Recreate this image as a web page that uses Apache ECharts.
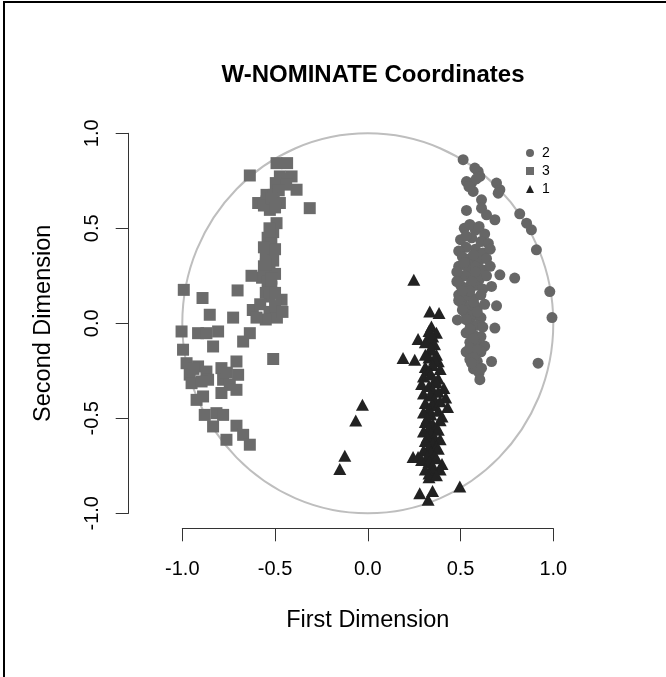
<!DOCTYPE html>
<html>
<head>
<meta charset="utf-8">
<script src="https://cdn.jsdelivr.net/npm/echarts@6/dist/echarts.min.js"></script>
<style>
  html, body { margin: 0; padding: 0; background: #fff; }
  #main { width: 666px; height: 677px; }
</style>
</head>
<body>
<div id="main"></div>
<script>
// axis ticks
const xTicks = [-1.0, -0.5, 0.0, 0.5, 1.0];
const yTicks = [-1.0, -0.5, 0.0, 0.5, 1.0];
const legendNames = ["2", "3", "1"];
const unitRadius = 1;

// group 2 (circles)
const group2 = [
  [0.514,0.861],[0.595,0.799],[0.577,0.817],[0.604,0.773],[0.532,0.746],[0.559,0.738],[0.568,0.694],
  [0.694,0.738],[0.712,0.703],[0.703,0.685],[0.613,0.65],[0.532,0.594],[0.613,0.606],[0.640,0.571],
  [0.685,0.545],[0.819,0.576],[0.856,0.527],[0.882,0.492],[0.909,0.387],[0.585,0.760],[0.545,0.720],
  [0.52,0.50],[0.58,0.49],[0.63,0.47],[0.55,0.52],[0.60,0.51],
  [0.50,0.44],[0.56,0.45],[0.61,0.43],[0.65,0.42],[0.53,0.46],
  [0.53,0.40],[0.58,0.39],[0.62,0.37],[0.49,0.38],[0.66,0.39],
  [0.51,0.35],[0.55,0.34],[0.60,0.33],[0.64,0.34],[0.57,0.36],
  [0.49,0.30],[0.54,0.29],[0.58,0.30],[0.62,0.28],[0.66,0.30],[0.52,0.32],
  [0.52,0.25],[0.56,0.24],[0.60,0.23],[0.64,0.25],[0.48,0.27],[0.58,0.27],
  [0.50,0.20],[0.54,0.19],[0.58,0.20],[0.62,0.18],[0.56,0.22],[0.48,0.22],
  [0.49,0.15],[0.53,0.14],[0.57,0.13],[0.61,0.15],[0.55,0.17],[0.51,0.17],
  [0.51,0.10],[0.55,0.09],[0.59,0.08],[0.63,0.10],[0.49,0.12],[0.57,0.11],
  [0.53,0.05],[0.57,0.04],[0.61,0.03],[0.51,0.07],[0.59,0.06],
  [0.55,0.00],[0.59,-0.01],[0.62,-0.02],[0.53,0.02],
  [0.53,-0.05],[0.57,-0.06],[0.61,-0.07],[0.55,-0.03],
  [0.55,-0.10],[0.59,-0.11],[0.63,-0.12],[0.57,-0.08],
  [0.53,-0.15],[0.57,-0.16],[0.61,-0.15],[0.55,-0.13],[0.59,-0.14],
  [0.55,-0.19],[0.59,-0.20],[0.57,-0.18],
  [0.57,-0.24],[0.60,-0.26],[0.58,-0.22],
  [0.712,0.255],[0.792,0.238],[0.667,0.194],[0.694,0.092],[0.981,0.167],[0.993,0.03],
  [0.483,0.018],[0.685,-0.025],[0.667,-0.201],[0.613,-0.236],[0.604,-0.297],[0.918,-0.21],[0.559,-0.21]
];

// group 3 (squares)
const group3 = [
  [-0.636,0.778],[-0.492,0.843],[-0.435,0.843],[-0.474,0.773],[-0.411,0.773],[-0.457,0.759],[-0.496,0.738],
  [-0.384,0.703],[-0.440,0.730],[-0.546,0.676],[-0.507,0.676],[-0.591,0.633],[-0.474,0.633],[-0.528,0.597],
  [-0.546,0.641],[-0.560,0.620],[-0.313,0.606],[-0.492,0.527],[-0.48,0.70],[-0.52,0.655],[-0.50,0.61],
  [-0.51,0.48],[-0.54,0.45],[-0.52,0.42],[-0.56,0.40],[-0.53,0.37],[-0.55,0.34],[-0.51,0.33],[-0.56,0.30],
  [-0.53,0.28],[-0.50,0.26],[-0.57,0.24],[-0.54,0.22],[-0.52,0.19],[-0.627,0.25],[-0.55,0.16],[-0.528,0.141],
  [-0.465,0.124],[-0.50,0.16],[-0.53,0.50],[-0.50,0.39],[-0.55,0.31],[-0.52,0.235],
  [-0.992,0.176],[-0.891,0.133],[-0.702,0.173],[-0.852,0.045],[-0.726,0.03],
  [-0.62,0.07],[-0.58,0.10],[-0.53,0.06],[-0.49,0.03],[-0.55,0.02],[-0.50,0.09],[-0.60,0.03],[-0.46,0.06],
  [-1.004,-0.043],[-0.915,-0.052],[-0.870,-0.052],[-0.807,-0.043],[-0.834,-0.122],[-0.996,-0.139],
  [-0.636,-0.052],[-0.672,-0.096],[-0.510,-0.188],
  [-0.977,-0.21],[-0.915,-0.227],[-0.96,-0.27],[-0.87,-0.254],[-0.861,-0.297],[-0.95,-0.315],[-0.896,-0.306],[-0.94,-0.24],
  [-0.789,-0.236],[-0.708,-0.201],[-0.699,-0.271],[-0.78,-0.297],[-0.744,-0.324],[-0.708,-0.35],[-0.789,-0.367],[-0.76,-0.26],
  [-0.888,-0.385],[-0.923,-0.403],[-0.879,-0.482],[-0.816,-0.473],[-0.78,-0.482],[-0.834,-0.543],
  [-0.708,-0.539],[-0.672,-0.587],[-0.636,-0.639],[-0.762,-0.613]
];

// group 1 (triangles)
const group1 = [
  [0.248,0.229],[0.334,0.062],[0.384,0.054],[0.343,-0.017],[0.271,-0.082],[0.325,-0.082],[0.19,-0.183],
  [0.253,-0.192],[0.343,-0.139],[0.37,-0.166],[-0.029,-0.429],[-0.065,-0.511],[-0.124,-0.697],[-0.151,-0.767],
  [0.244,-0.704],[0.271,-0.704],[0.28,-0.894],[0.349,-0.882],[0.325,-0.929],[0.496,-0.859],
  [0.33,-0.04],[0.37,-0.05],[0.35,-0.07],
  [0.31,-0.10],[0.36,-0.11],[0.34,-0.13],
  [0.33,-0.18],[0.38,-0.20],[0.31,-0.165],[0.36,-0.19],
  [0.31,-0.23],[0.35,-0.22],[0.39,-0.24],[0.33,-0.25],
  [0.30,-0.28],[0.34,-0.27],[0.38,-0.29],[0.36,-0.30],
  [0.29,-0.32],[0.33,-0.33],[0.37,-0.31],[0.41,-0.34],[0.35,-0.35],
  [0.30,-0.37],[0.34,-0.38],[0.38,-0.36],[0.42,-0.39],[0.36,-0.40],
  [0.31,-0.42],[0.35,-0.43],[0.39,-0.41],[0.43,-0.44],[0.33,-0.45],
  [0.30,-0.47],[0.34,-0.48],[0.38,-0.46],[0.40,-0.49],[0.32,-0.50],
  [0.31,-0.52],[0.35,-0.53],[0.39,-0.51],[0.37,-0.55],[0.33,-0.55],
  [0.30,-0.57],[0.34,-0.58],[0.38,-0.56],[0.36,-0.60],[0.32,-0.60],
  [0.31,-0.62],[0.35,-0.63],[0.39,-0.61],[0.33,-0.65],[0.37,-0.65],
  [0.30,-0.67],[0.34,-0.68],[0.38,-0.66],[0.36,-0.70],[0.32,-0.70],
  [0.29,-0.72],[0.33,-0.73],[0.37,-0.71],[0.40,-0.74],[0.35,-0.75],
  [0.31,-0.77],[0.35,-0.78],[0.39,-0.77],[0.33,-0.79],
  [0.33,-0.81],[0.37,-0.80]
];

const font = "Liberation Sans, Arial, sans-serif";
const myChart = echarts.init(document.getElementById("main"), null, { renderer: "canvas" });

const axisCommon = {
  type: "value",
  splitLine: { show: false },
  axisLine: { show: true, onZero: false, lineStyle: { color: "#333", width: 1 } },
  axisTick: { show: true, length: 13, lineStyle: { color: "#333", width: 1 } },
  nameLocation: "middle",
  nameTextStyle: { fontFamily: font, fontSize: 23.5, color: "#000" }
};

const option = {
  backgroundColor: "#fff",
  animation: false,
  title: {
    text: "W-NOMINATE Coordinates",
    left: 368,
    textAlign: "center",
    top: 58,
    textStyle: { fontFamily: font, fontSize: 24, fontWeight: "bold", color: "#000" }
  },
  legend: {
    orient: "vertical",
    left: 521,
    top: 141,
    itemWidth: 8,
    itemHeight: 8,
    itemGap: 4,
    data: [
      { name: legendNames[0], icon: "circle" },
      { name: legendNames[1], icon: "rect" },
      { name: legendNames[2], icon: "triangle" }
    ],
    textStyle: { fontFamily: font, fontSize: 14, lineHeight: 14, color: "#000", padding: [0, 0, 0, 3] }
  },
  grid: { left: 182.3, right: 112.7, top: 133.3, bottom: 163.7, outerBoundsMode: "none" },
  xAxis: Object.assign({}, axisCommon, {
    min: xTicks[0],
    max: xTicks[xTicks.length - 1],
    interval: 0.5,
    offset: 15,
    name: "First Dimension",
    nameGap: 80,
    axisLabel: { fontFamily: font, fontSize: 20, color: "#000", margin: 31, formatter: (v) => v.toFixed(1) }
  }),
  yAxis: Object.assign({}, axisCommon, {
    min: yTicks[0],
    max: yTicks[yTicks.length - 1],
    interval: 0.5,
    offset: 53.6,
    name: "Second Dimension",
    nameRotate: 90,
    nameGap: 73,
    axisLabel: { fontFamily: font, fontSize: 20, color: "#000", margin: 26, rotate: 90, formatter: (v) => v.toFixed(1) }
  }),
  graphic: [
    { type: "rect", shape: { x: 4, y: 2, width: 680, height: 690 }, style: { fill: null, stroke: "#000", lineWidth: 2 }, silent: true }
  ],
  series: [
    {
      type: "custom",
      silent: true,
      clip: false,
      data: [[0, 0]],
      z: 1,
      renderItem: (params, api) => {
        const c = api.coord([0, 0]);
        const s = api.size([unitRadius, unitRadius]);
        return {
          type: "ellipse",
          shape: { cx: c[0], cy: c[1], rx: s[0], ry: s[1] },
          style: { fill: null, stroke: "#bebebe", lineWidth: 2 }
        };
      }
    },
    {
      name: legendNames[0], type: "scatter", data: group2, symbol: "circle", symbolSize: 11,
      clip: false, itemStyle: { color: "#666666", opacity: 1 }, z: 3
    },
    {
      name: legendNames[1], type: "scatter", data: group3, symbol: "rect", symbolSize: 12,
      clip: false, itemStyle: { color: "#6b6b6b", opacity: 1 }, z: 3
    },
    {
      name: legendNames[2], type: "scatter", data: group1, symbol: "triangle", symbolSize: [13, 12],
      clip: false, itemStyle: { color: "#222222", opacity: 1 }, z: 3
    }
  ]
};

myChart.setOption(option);
</script>
</body>
</html>
